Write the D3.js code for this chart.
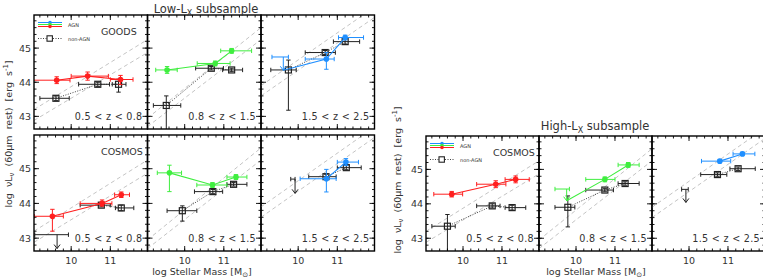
<!DOCTYPE html>
<html>
<head>
<meta charset="utf-8">
<script src="https://d3js.org/d3.v7.min.js"></script>
<style>
  body { margin: 0; background: #fff; }
  svg { font-family: "DejaVu Sans", sans-serif; }
</style>
</head>
<body>
<svg id="chart" width="763" height="279"></svg>
<script>
// ---- data ----
var zBins = ["0.5 < z < 0.8", "0.8 < z < 1.5", "1.5 < z < 2.5"];
var agnColors = ["#ff1f1f", "#3fee3f", "#1f8fff"];
var massTicks = [10, 11];
var lumTicks = [43, 44, 45];
var massDomain = [9.05, 11.95];
var lumDomain = [42.63, 45.97];

// main-sequence guide lines, value at left / right end of mass domain
var msUpper = [[43.2, 45.25], [42.95, 45.6], [43.9, 46.2]];
var msLower = [[42.88, 44.87], [42.7, 45.25], [43.6, 45.9]];

// [mass, massLo, massHi, L, Llo, Lhi, upperLimit]
var lowGoodsAgn = [
  [[9.63, 9.0, 9.97, 44.06, 43.96, 44.16, 0], [10.42, 10.0, 10.95, 44.18, 44.06, 44.3, 0], [11.26, 11.0, 11.58, 44.08, 43.93, 44.2, 0]],
  [[9.55, 9.26, 9.81, 44.36, 44.26, 44.46, 0], [10.78, 10.32, 11.16, 44.55, 44.48, 44.62, 0], [11.2, 10.92, 11.71, 44.92, 44.85, 44.99, 0]],
  [[9.62, 9.33, 9.75, 44.74, 44.35, 44.74, 1], [10.72, 10.18, 10.92, 44.68, 44.38, 44.87, 0], [11.2, 11.03, 11.67, 45.31, 45.24, 45.38, 0]]
];
var lowGoodsNon = [
  [[9.61, 9.2, 9.95, 43.53, 43.46, 43.6, 0], [10.68, 10.19, 10.98, 43.94, 43.88, 44.0, 0], [11.21, 11.05, 11.4, 43.94, 43.71, 44.09, 0]],
  [[9.53, 9.2, 9.9, 43.32, 42.5, 43.6, 0], [10.68, 10.28, 10.99, 44.41, 44.36, 44.46, 0], [11.2, 10.97, 11.48, 44.36, 44.31, 44.41, 0]],
  [[9.75, 9.3, 9.95, 44.36, 43.18, 44.65, 0], [10.69, 10.18, 10.95, 44.87, 44.81, 44.93, 0], [11.2, 10.9, 11.57, 45.19, 45.12, 45.26, 0]]
];
var lowCosmosAgn = [
  [[9.52, 9.06, 9.8, 43.63, 43.2, 43.83, 0], [10.79, 10.23, 11.04, 44.0, 43.92, 44.1, 0], [11.28, 11.11, 11.49, 44.25, 44.17, 44.33, 0]],
  [[9.61, 9.3, 9.92, 44.88, 44.34, 45.1, 0], [10.71, 10.31, 11.08, 44.53, 44.46, 44.6, 0], [11.31, 11.08, 11.59, 44.76, 44.69, 44.83, 0]],
  [[10.72, 10.05, 10.97, 44.71, 44.33, 44.98, 0], [11.22, 11.0, 11.54, 45.19, 45.09, 45.29, 0]]
];
var lowCosmosNon = [
  [[9.64, 9.07, 9.93, 43.1, 42.7, 43.1, 1], [10.77, 10.23, 11.0, 43.95, 43.9, 44.0, 0], [11.28, 11.13, 11.6, 43.87, 43.79, 43.95, 0]],
  [[9.94, 9.55, 10.31, 43.79, 43.49, 43.93, 0], [10.72, 10.25, 10.97, 44.34, 44.28, 44.4, 0], [11.25, 11.08, 11.59, 44.55, 44.5, 44.6, 0]],
  [[9.92, 9.81, 9.92, 44.7, 44.29, 44.7, 1], [10.71, 10.27, 10.97, 44.77, 44.7, 44.84, 0], [11.23, 11.0, 11.61, 45.03, 44.97, 45.09, 0]]
];
var highCosmosAgn = [
  [[9.71, 9.25, 9.99, 44.28, 44.2, 44.36, 0], [10.84, 10.35, 11.1, 44.57, 44.47, 44.67, 0], [11.35, 11.08, 11.7, 44.71, 44.61, 44.81, 0]],
  [[9.76, 9.46, 9.83, 44.43, 44.09, 44.43, 1], [10.74, 10.25, 11.0, 44.71, 44.64, 44.78, 0], [11.34, 11.08, 11.62, 45.13, 45.06, 45.2, 0]],
  [[10.79, 10.32, 11.07, 45.24, 45.19, 45.29, 0], [11.37, 11.13, 11.69, 45.45, 45.4, 45.5, 0]]
];
var highCosmosNon = [
  [[9.6, 9.2, 9.8, 43.35, 42.5, 43.69, 0], [10.75, 10.35, 10.95, 43.94, 43.88, 44.0, 0], [11.26, 11.08, 11.61, 43.89, 43.82, 43.96, 0]],
  [[9.79, 9.46, 9.97, 43.9, 43.33, 44.23, 0], [10.74, 10.25, 10.96, 44.4, 44.35, 44.45, 0], [11.26, 11.08, 11.62, 44.59, 44.54, 44.64, 0]],
  [[9.92, 9.81, 9.98, 44.42, 44.04, 44.42, 1], [10.73, 10.3, 10.97, 44.85, 44.8, 44.9, 0], [11.26, 11.05, 11.7, 45.02, 44.97, 45.07, 0]]
];

// ---- layout ----
var svg = d3.select("#chart");
var defs = svg.append("defs");
var ink = "#333";

var rows = [
  {top: 15, bottom: 129, x0: 34, pw: 113.5, field: "GOODS", agn: lowGoodsAgn, non: lowGoodsNon, legend: true, xLabels: false},
  {top: 135, bottom: 251, x0: 34, pw: 113.5, field: "COSMOS", agn: lowCosmosAgn, non: lowCosmosNon, legend: false, xLabels: true},
  {top: 136, bottom: 251, x0: 426, pw: 113, field: "COSMOS", agn: highCosmosAgn, non: highCosmosNon, legend: true, xLabels: true}
];

var minorMass = d3.range(9.2, 11.95, 0.2);
var minorLum = d3.range(42.8, 45.95, 0.2);

function arrow(g, x, y1, y2, color) {
  g.append("line").attr("x1", x).attr("x2", x).attr("y1", y1).attr("y2", y2)
    .attr("stroke", color).attr("stroke-width", 1);
  g.append("path").attr("d", "M" + (x - 3) + "," + (y2 - 4) + "L" + x + "," + y2 + "L" + (x + 3) + "," + (y2 - 4))
    .attr("fill", "none").attr("stroke", color).attr("stroke-width", 1);
}

function errBars(g, d, x, y, color) {
  var cap = 2.2;
  var xa = x(d[1]), xb = x(d[2]), yc = y(d[3]);
  g.append("line").attr("x1", xa).attr("x2", xb).attr("y1", yc).attr("y2", yc).attr("stroke", color);
  g.append("line").attr("x1", xa).attr("x2", xa).attr("y1", yc - cap).attr("y2", yc + cap).attr("stroke", color);
  g.append("line").attr("x1", xb).attr("x2", xb).attr("y1", yc - cap).attr("y2", yc + cap).attr("stroke", color);
  if (d[6]) {
    arrow(g, x(d[0]), yc, y(d[4]), color);
  } else {
    var ya = y(d[4]), yb = y(d[5]), xc = x(d[0]);
    g.append("line").attr("x1", xc).attr("x2", xc).attr("y1", ya).attr("y2", yb).attr("stroke", color);
    g.append("line").attr("x1", xc - cap).attr("x2", xc + cap).attr("y1", ya).attr("y2", ya).attr("stroke", color);
    g.append("line").attr("x1", xc - cap).attr("x2", xc + cap).attr("y1", yb).attr("y2", yb).attr("stroke", color);
  }
}

var pid = 0;
rows.forEach(function(r) {
  var y = d3.scaleLinear().domain(lumDomain).range([r.bottom, r.top]);
  zBins.forEach(function(zb, k) {
    var left = r.x0 + k * r.pw, right = left + r.pw;
    var x = d3.scaleLinear().domain(massDomain).range([left, right]);
    var cid = "clip" + (pid++);
    defs.append("clipPath").attr("id", cid).append("rect")
      .attr("x", left).attr("y", r.top).attr("width", r.pw).attr("height", r.bottom - r.top);
    var g = svg.append("g").attr("clip-path", "url(#" + cid + ")");

    // main sequence dashed lines
    [msUpper[k], msLower[k]].forEach(function(ln) {
      g.append("line")
        .attr("x1", x(massDomain[0])).attr("y1", y(ln[0]))
        .attr("x2", x(massDomain[1])).attr("y2", y(ln[1]))
        .attr("stroke", "#c4c4c4").attr("stroke-width", 1).attr("stroke-dasharray", "4,3");
    });

    // non-AGN
    var non = r.non[k];
    var nonPts = non.filter(function(d) { return !d[6]; });
    g.append("path")
      .attr("d", d3.line().x(function(d) { return x(d[0]); }).y(function(d) { return y(d[3]); })(nonPts))
      .attr("fill", "none").attr("stroke", "#444").attr("stroke-width", 1).attr("stroke-dasharray", "1,1.5");
    non.forEach(function(d) { errBars(g, d, x, y, "#222"); });
    g.selectAll(".sq").data(nonPts).enter().append("rect")
      .attr("x", function(d) { return x(d[0]) - 3; })
      .attr("y", function(d) { return y(d[3]) - 3; })
      .attr("width", 6).attr("height", 6)
      .attr("fill", "none").attr("stroke", "#222").attr("stroke-width", 1.2);

    // AGN
    var col = agnColors[k];
    var agn = r.agn[k];
    g.append("path")
      .attr("d", d3.line().x(function(d) { return x(d[0]); }).y(function(d) { return y(d[6] ? d[4] : d[3]); })(agn))
      .attr("fill", "none").attr("stroke", col).attr("stroke-width", 1.1);
    agn.forEach(function(d) { errBars(g, d, x, y, col); });
    g.selectAll(".pt").data(agn.filter(function(d) { return !d[6]; })).enter().append("circle")
      .attr("cx", function(d) { return x(d[0]); })
      .attr("cy", function(d) { return y(d[3]); })
      .attr("r", 2.8).attr("fill", col);

    // frame with ticks
    var f = svg.append("g").attr("stroke", "#000");
    function ticks(vals, len, side) {
      vals.forEach(function(v) {
        if (side === "b" || side === "t") {
          var px = x(v), y0 = side === "b" ? r.bottom : r.top, s = side === "b" ? -1 : 1;
          f.append("line").attr("x1", px).attr("x2", px).attr("y1", y0).attr("y2", y0 + s * len).attr("stroke-width", 0.9);
        } else {
          var py = y(v), x0 = side === "l" ? left : right, s2 = side === "l" ? 1 : -1;
          f.append("line").attr("x1", x0).attr("x2", x0 + s2 * len).attr("y1", py).attr("y2", py).attr("stroke-width", 0.9);
        }
      });
    }
    ["b", "t"].forEach(function(s) { ticks(minorMass, 2.5, s); ticks(massTicks, 5, s); });
    ["l", "r"].forEach(function(s) { ticks(minorLum, 2.5, s); ticks(lumTicks, 5, s); });
    f.append("rect").attr("x", left).attr("y", r.top).attr("width", r.pw).attr("height", r.bottom - r.top)
      .attr("fill", "none").attr("stroke-width", 1.4);

    // labels
    svg.append("text").attr("x", right - 5).attr("y", r.bottom - 9)
      .attr("text-anchor", "end").attr("font-size", 9.6).attr("fill", ink)
      .attr("letter-spacing", 0.3).text(zb);
    if (r.xLabels) {
      massTicks.forEach(function(t) {
        svg.append("text").attr("x", x(t)).attr("y", r.bottom + 13).attr("text-anchor", "middle")
          .attr("font-size", 9.5).attr("fill", ink).text(t);
      });
    }
    if (k === 0) {
      lumTicks.forEach(function(t) {
        svg.append("text").attr("x", left - 3).attr("y", y(t) + 3.5).attr("text-anchor", "end")
          .attr("font-size", 9.5).attr("fill", ink).text(t);
      });
      svg.append("text").attr("x", left + 67).attr("y", r.top + 19.5)
        .attr("font-size", 9.5).attr("fill", ink).text(r.field);
      if (r.legend) {
        var lg = svg.append("g");
        agnColors.slice().reverse().forEach(function(c, i) {
          var yy = r.top + 7.5 + i * 2;
          lg.append("line").attr("x1", left + 4).attr("x2", left + 28).attr("y1", yy).attr("y2", yy).attr("stroke", c);
          lg.append("circle").attr("cx", left + 16).attr("cy", yy).attr("r", 1.8).attr("fill", c);
        });
        lg.append("text").attr("x", left + 34).attr("y", r.top + 11.5).attr("font-size", 5).attr("fill", ink).text("AGN");
        var yn = r.top + 23.5;
        lg.append("line").attr("x1", left + 4).attr("x2", left + 28).attr("y1", yn).attr("y2", yn)
          .attr("stroke", "#444").attr("stroke-dasharray", "1,1.5");
        lg.append("rect").attr("x", left + 13).attr("y", yn - 2.7).attr("width", 5.4).attr("height", 5.4)
          .attr("fill", "#fff").attr("stroke", "#222").attr("stroke-width", 1.1);
        lg.append("text").attr("x", left + 34).attr("y", yn + 2).attr("font-size", 5).attr("fill", ink).text("non-AGN");
      }
    }
  });
});

// titles
function subTitle(cx, cy, main) {
  var t = svg.append("text").attr("x", cx).attr("y", cy).attr("text-anchor", "middle")
    .attr("font-size", 11.5).attr("fill", ink);
  t.append("tspan").text(main + "-L");
  t.append("tspan").attr("font-size", 8).attr("dy", 3).text("X");
  t.append("tspan").attr("dy", -3).text(" subsample");
}
subTitle(206, 13, "Low");
subTitle(595, 130, "High");

function yLabel(cx, cy) {
  var t = svg.append("text").attr("transform", "translate(" + cx + "," + cy + ") rotate(-90)")
    .attr("text-anchor", "middle").attr("font-size", 9.5).attr("fill", ink).attr("xml:space", "preserve");
  t.append("tspan").text("log  \u03bdL");
  t.append("tspan").attr("font-size", 7).attr("dy", 2).text("\u03bd");
  t.append("tspan").attr("dy", -2).text("  (60\u03bcm  rest)  [erg  s");
  t.append("tspan").attr("font-size", 7).attr("dy", -4).text("-1");
  t.append("tspan").attr("dy", 4).text("]");
}
yLabel(12, 134);
yLabel(401, 180);

function xLabel(cx, cy) {
  var t = svg.append("text").attr("x", cx).attr("y", cy).attr("text-anchor", "middle")
    .attr("font-size", 9.5).attr("fill", ink);
  t.append("tspan").text("log Stellar Mass [M");
  t.append("tspan").attr("font-size", 7).attr("dy", 2).text("\u2299");
  t.append("tspan").attr("dy", -2).text("]");
}
xLabel(202, 275);
xLabel(596, 275);
</script>
</body>
</html>
